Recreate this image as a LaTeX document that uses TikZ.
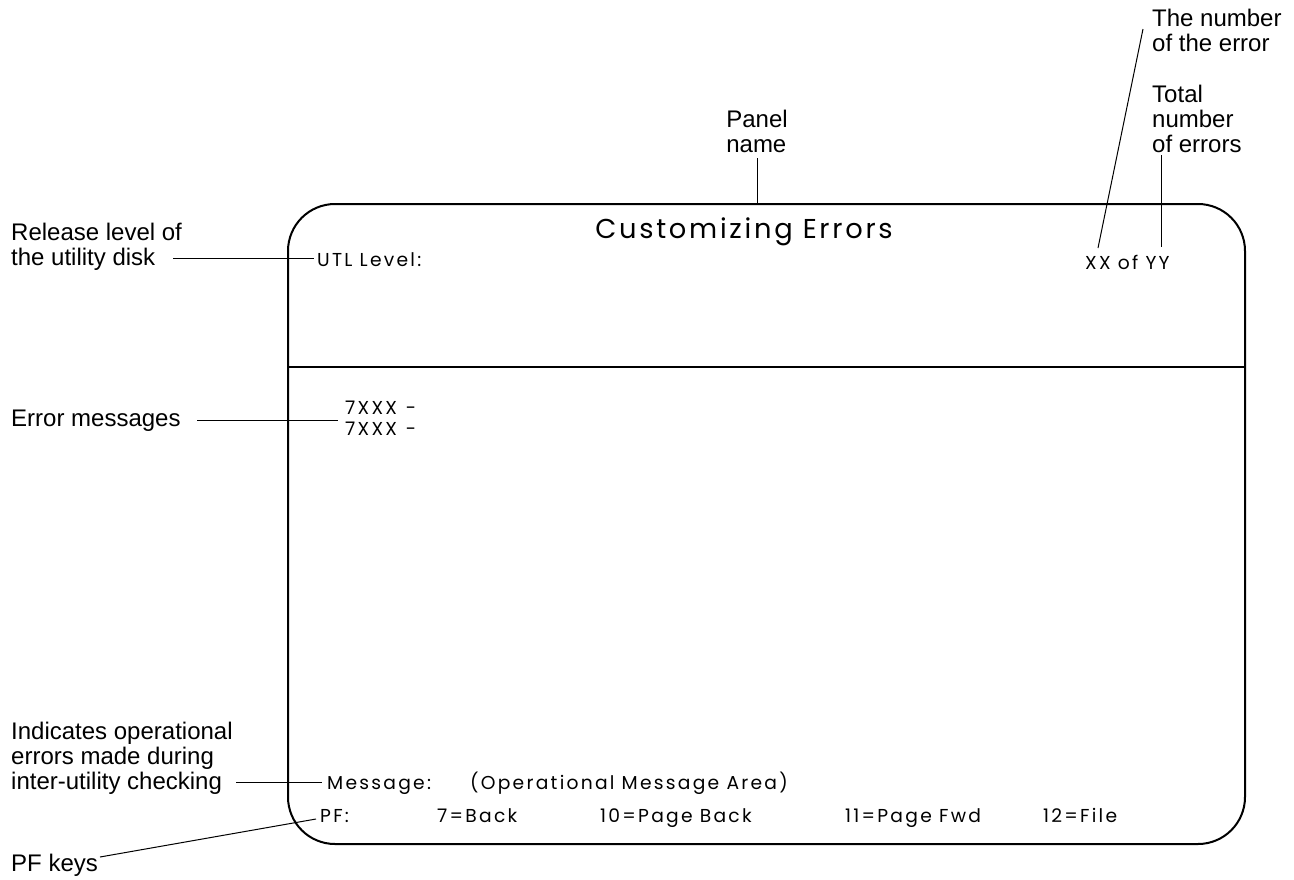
\documentclass[tikz,border=0pt]{standalone}
\usepackage{fontspec}
\setmainfont{Liberation Sans}
\newfontfamily\panelfont[LetterSpace=12]{Poppins}
\newfontfamily\titlefont[LetterSpace=10]{Poppins}
\begin{document}
\begin{tikzpicture}[x=1pt,y=-1pt,
  lbl/.style={inner sep=0pt, anchor=base west, font=\fontsize{24}{25}\selectfont, align=left},
  ptxt/.style={inner sep=0pt, anchor=base west, font=\panelfont\fontsize{18.7}{21}\selectfont},
  leader/.style={line width=1pt},
  frame/.style={line width=2pt}]
\useasboundingbox (0,0) rectangle (1294,879);
% panel
\node[frame, draw, rounded corners=47pt, minimum width=957pt, minimum height=640pt, inner sep=0pt] (panel) at (766.5,524) {};
\coordinate (divl) at (panel.west |- 0,367);
\coordinate (divr) at (panel.east |- 0,367);
\draw[frame] (divl) -- (divr);
% panel texts
\node[inner sep=0pt, font=\titlefont\fontsize{27.3}{30}\selectfont, anchor=base] (title) at (744,238) {Customizing Errors};
\node[ptxt] (utl) at (317,266) {UTL Level:};
\node[ptxt] (xxyy) at (1085,269) {XX of YY};
\node[ptxt] (e1) at (345,414) {7XXX\hspace{9pt}-};
\node[ptxt] (e2) at (345,435) {7XXX\hspace{9pt}-};
\node[ptxt] (msg) at (327,789) {Message:};
\node[ptxt] (opm) at (470,789) {(Operational Message Area)};
\node[ptxt] (pf) at (320,822) {PF:};
\node[ptxt] (k7) at (437,822) {7=Back};
\node[ptxt] (k10) at (600,822) {10=Page Back};
\node[ptxt] (k11) at (845,822) {11=Page Fwd};
\node[ptxt] (k12) at (1043,822) {12=File};
% labels
\node[lbl] (num) at (1152,51) {The number\\of the error};
\node[lbl] (tot) at (1152,152) {Total\\number\\of errors};
\node[lbl, anchor=base] (pname) at (757,152) {Panel\\name};
\node[lbl] (rel) at (11,265) {Release level of\\the utility disk};
\node[lbl] (errm) at (11,426) {Error messages};
\node[lbl] (ind) at (11,789) {Indicates operational\\errors made during\\inter-utility checking};
\node[lbl] (pfk) at (11,871) {PF keys};
% leaders
\coordinate (numend) at (1143,29);
\coordinate (numtip) at (1098,248);
\draw[leader] (numend) -- (numtip);
\coordinate (totend) at (1161,155);
\coordinate (tottip) at (1161,247);
\draw[leader] (totend) -- (tottip);
\coordinate (pnend) at (757,158);
\draw[leader] (pnend) -- (pnend |- panel.north);
\coordinate (relend) at (173,258);
\draw[leader] (relend) -- ([xshift=-3pt]utl.west |- relend);
\coordinate (errend) at (197,420);
\draw[leader] (errend) -- ([xshift=-7pt]e1.west |- errend);
\coordinate (indend) at (236,782);
\draw[leader] (indend) -- ([xshift=-5pt]msg.west |- indend);
\coordinate (pfend) at (100,857);
\coordinate (pftip) at (316,819);
\draw[leader] (pfend) -- (pftip);
\end{tikzpicture}
\end{document}
